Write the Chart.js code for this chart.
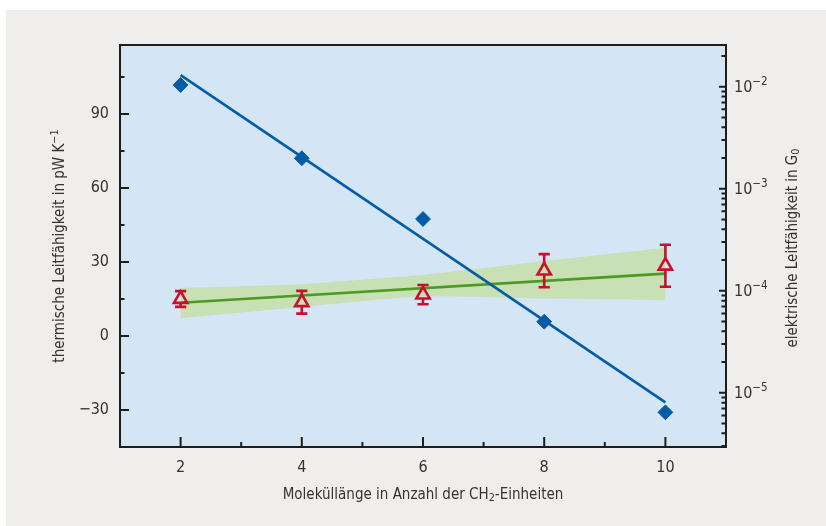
<!DOCTYPE html>
<html><head><meta charset="utf-8">
<script src="https://cdn.jsdelivr.net/npm/chart.js@4"></script>
<style>html,body{margin:0;padding:0;background:#fff}canvas{display:block}</style>
</head><body><canvas id="c" width="826" height="526"></canvas>
<script>
// ---- data ----
const chainLengths = [2, 4, 6, 8, 10];
const thermal = [15.0, 13.7, 16.8, 26.5, 28.5];
const thermalErr = [3.2, 4.6, 3.9, 6.7, 8.5];
const electrical = [1.04e-2, 1.99e-3, 5.05e-4, 4.97e-5, 6.43e-6];
const elecFitX = [2, 10];
const elecFit = [1.30e-2, 8.05e-6];
const thermFitX = [2, 10];
const thermFit = [13.5, 25.3];
const bandX = [2, 4, 6, 8, 10];
const bandUpper = [19.5, 21.0, 24.8, 30.4, 35.8];
const bandLower = [7.3, 11.8, 16.1, 15.2, 14.5];
const xTickLabels = [2, 4, 6, 8, 10];
const xMinorTicks = [3, 5, 7, 9];
const leftTickLabels = [-30, 0, 30, 60, 90];
const leftMinorTicks = [-15, 15, 45, 75, 105];
const rightTickExps = [-5, -4, -3, -2];
const xTitle = [{t: 'Moleküllänge in Anzahl der CH'}, {t: '2', s: 'sub'}, {t: '-Einheiten'}];
const yTitle = [{t: 'thermische Leitfähigkeit in pW K'}, {t: '−1', s: 'sup'}];
const y2Title = [{t: 'elektrische Leitfähigkeit in G'}, {t: '0', s: 'sub'}];

const FONT = '"Liberation Sans Narrow", "DejaVu Sans Condensed", "Noto Sans", sans-serif';
const TXT = '#333333';
const INK = '#1d1d1b';
const BLUE = '#045ca6';
const RED = '#c8102e';
const GREEN = '#4a9a24';
const BAND = '#c8e0b4';

const pts = (xs, ys) => xs.map((x, i) => ({x, y: ys[i]}));

function drawRuns(ctx, runs, x, y, size, rot, align) {
  ctx.save();
  ctx.translate(x, y);
  if (rot) ctx.rotate(rot);
  let total = 0;
  const ms = runs.map(r => {
    const s = r.s ? size * 0.72 : size;
    ctx.font = s + 'px ' + FONT;
    const w = ctx.measureText(r.t).width;
    total += w;
    return {s, w};
  });
  let cx = align === 'left' ? 0 : -total / 2;
  ctx.textBaseline = 'middle';
  ctx.textAlign = 'left';
  ctx.fillStyle = TXT;
  runs.forEach((r, i) => {
    ctx.font = ms[i].s + 'px ' + FONT;
    const dy = r.s === 'sup' ? -size * 0.33 : r.s === 'sub' ? size * 0.22 : 0;
    ctx.fillText(r.t, cx, dy);
    cx += ms[i].w;
  });
  ctx.restore();
}

const framePlugin = {
  id: 'frame',
  beforeDraw(chart) {
    const {ctx, chartArea: a} = chart;
    ctx.save();
    ctx.fillStyle = '#ffffff';
    ctx.fillRect(0, 0, chart.width, chart.height);
    ctx.fillStyle = '#efeeec';
    ctx.fillRect(6, 10, chart.width - 6, chart.height - 10);
    ctx.fillStyle = '#d4e5f5';
    ctx.fillRect(a.left, a.top, a.right - a.left, a.bottom - a.top);
    ctx.restore();
  },
  afterDatasetsDraw(chart) {
    // error bars for the thermal data
    const {ctx} = chart;
    const xs = chart.scales.x, ys = chart.scales.y;
    const r = 7.7;
    ctx.save();
    ctx.strokeStyle = RED;
    ctx.lineWidth = 2.6;
    chainLengths.forEach((xv, i) => {
      const px = xs.getPixelForValue(xv);
      const py = ys.getPixelForValue(thermal[i]);
      const top = ys.getPixelForValue(thermal[i] + thermalErr[i]);
      const bot = ys.getPixelForValue(thermal[i] - thermalErr[i]);
      ctx.beginPath();
      ctx.moveTo(px, top); ctx.lineTo(px, py - r);
      ctx.moveTo(px, py + r / 2); ctx.lineTo(px, bot);
      ctx.moveTo(px - 5.6, top); ctx.lineTo(px + 5.6, top);
      ctx.moveTo(px - 5.6, bot); ctx.lineTo(px + 5.6, bot);
      ctx.stroke();
    });
    ctx.restore();
  },
  afterDraw(chart) {
    const {ctx, chartArea: a} = chart;
    const xs = chart.scales.x, ys = chart.scales.y, y2 = chart.scales.y2;
    ctx.save();
    ctx.strokeStyle = INK;
    ctx.lineWidth = 2;
    ctx.strokeRect(a.left, a.top, a.right - a.left, a.bottom - a.top);
    ctx.beginPath();
    // x ticks (inward)
    xTickLabels.forEach(v => { const p = xs.getPixelForValue(v); ctx.moveTo(p, a.bottom); ctx.lineTo(p, a.bottom - 10); });
    xMinorTicks.forEach(v => { const p = xs.getPixelForValue(v); ctx.moveTo(p, a.bottom); ctx.lineTo(p, a.bottom - 5); });
    // left ticks
    leftTickLabels.forEach(v => { const p = ys.getPixelForValue(v); ctx.moveTo(a.left, p); ctx.lineTo(a.left + 9, p); });
    leftMinorTicks.forEach(v => { const p = ys.getPixelForValue(v); ctx.moveTo(a.left, p); ctx.lineTo(a.left + 4.5, p); });
    // right log ticks
    for (let e = -6; e <= -1; e++) {
      for (let m = 1; m <= 9; m++) {
        const v = m * Math.pow(10, e);
        if (v <= y2.min || v >= y2.max) continue;
        const p = y2.getPixelForValue(v);
        const len = m === 1 ? 7 : 4.5;
        ctx.moveTo(a.right, p); ctx.lineTo(a.right - len, p);
      }
    }
    ctx.stroke();
    ctx.restore();
    // right tick labels
    rightTickExps.forEach(e => {
      const p = y2.getPixelForValue(Math.pow(10, e));
      drawRuns(ctx, [{t: '10'}, {t: '−' + Math.abs(e), s: 'sup'}], a.right + 8, p + 1, 16, 0, 'left');
    });
    // titles
    drawRuns(ctx, yTitle, 60, (a.top + a.bottom) / 2, 15, -Math.PI / 2);
    drawRuns(ctx, y2Title, 793, 248, 15, -Math.PI / 2);
    drawRuns(ctx, xTitle, (a.left + a.right) / 2, 495, 15, 0);
  }
};

new Chart(document.getElementById('c'), {
  type: 'scatter',
  data: {
    datasets: [
      {label: 'G', data: pts(chainLengths, electrical), yAxisID: 'y2', showLine: false,
        pointStyle: 'rectRot', pointRadius: 7.4, backgroundColor: BLUE, borderColor: BLUE, borderWidth: 1},
      {label: 'G fit', data: pts(elecFitX, elecFit), yAxisID: 'y2', showLine: true, pointRadius: 0,
        borderColor: BLUE, borderWidth: 2.6},
      {label: 'kappa', data: pts(chainLengths, thermal), yAxisID: 'y', showLine: false,
        pointStyle: 'triangle', pointRadius: 7.7, backgroundColor: 'rgba(0,0,0,0)', borderColor: RED, borderWidth: 2.6},
      {label: 'kappa fit', data: pts(thermFitX, thermFit), yAxisID: 'y', showLine: true, pointRadius: 0,
        borderColor: GREEN, borderWidth: 2.6},
      {label: 'band hi', data: pts(bandX, bandUpper), yAxisID: 'y', showLine: true, pointRadius: 0,
        borderWidth: 0, borderColor: 'rgba(0,0,0,0)', backgroundColor: BAND, fill: '+1', tension: 0.15},
      {label: 'band lo', data: pts(bandX, bandLower), yAxisID: 'y', showLine: true, pointRadius: 0,
        borderWidth: 0, borderColor: 'rgba(0,0,0,0)', tension: 0.15}
    ]
  },
  options: {
    responsive: false,
    animation: false,
    devicePixelRatio: 1,
    layout: {padding: {top: 45, left: 0, right: 0, bottom: 0}},
    plugins: {legend: {display: false}, tooltip: {enabled: false}},
    scales: {
      x: {
        type: 'linear', min: 1, max: 11, position: 'bottom',
        grid: {display: false}, border: {display: false},
        afterBuildTicks: s => { s.ticks = xTickLabels.map(v => ({value: v})); },
        afterFit: s => { s.height = 79; },
        ticks: {color: TXT, padding: 3, font: {family: FONT, size: 16}, autoSkip: false, maxRotation: 0}
      },
      y: {
        type: 'linear', min: -45, max: 118, position: 'left',
        grid: {display: false}, border: {display: false},
        afterBuildTicks: s => { s.ticks = leftTickLabels.map(v => ({value: v})); },
        afterFit: s => { s.width = 120; },
        ticks: {color: TXT, padding: 3, font: {family: FONT, size: 16}, autoSkip: false,
          callback: v => v < 0 ? '−' + Math.abs(v) : String(v)}
      },
      y2: {
        type: 'logarithmic', min: 2.94e-6, max: 0.02564, position: 'right',
        grid: {display: false}, border: {display: false},
        afterFit: s => { s.width = 100; },
        ticks: {display: false}
      }
    }
  },
  plugins: [framePlugin]
});
</script>
</body></html>
